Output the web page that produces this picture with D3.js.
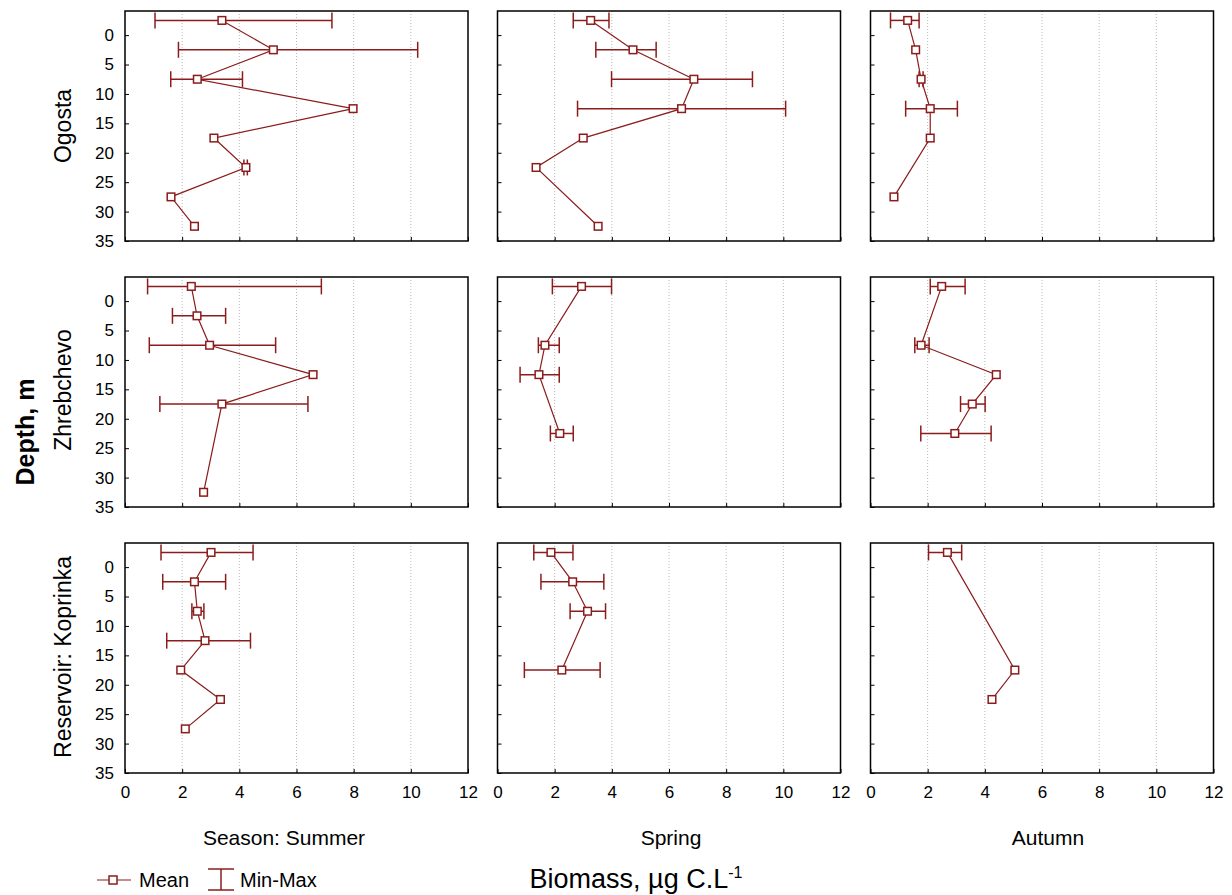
<!DOCTYPE html>
<html><head><meta charset="utf-8">
<script src="https://cdn.jsdelivr.net/npm/d3@7"></script>
<style>body{margin:0;background:#fff;}text{font-family:"Liberation Sans",Arial,sans-serif;}</style>
</head><body>
<svg id="c" width="1232" height="895"></svg>
<script>
const reservoirs = ["Ogosta", "Zhrebchevo", "Reservoir: Koprinka"];
const seasons = ["Season: Summer", "Spring", "Autumn"];
const xTicks = [0, 2, 4, 6, 8, 10, 12];
const yTicks = [0, 5, 10, 15, 20, 25, 30, 35];
const depths = [-2.5, 2.5, 7.5, 12.5, 17.5, 22.5, 27.5, 32.5];

// mean, min, max per depth (null = no sample / no bar)
const ogostaSummerMean = [3.39, 5.19, 2.53, 7.98, 3.11, 4.23, 1.61, 2.43];
const ogostaSummerMin  = [1.05, 1.87, 1.60, null, null, 4.16, null, null];
const ogostaSummerMax  = [7.24, 10.24, 4.11, null, null, 4.28, null, null];

const ogostaSpringMean = [3.26, 4.74, 6.87, 6.44, 3.00, 1.35, null, 3.52];
const ogostaSpringMin  = [2.65, 3.44, 3.99, 2.80, null, null, null, null];
const ogostaSpringMax  = [3.90, 5.55, 8.92, 10.08, null, null, null, null];

const ogostaAutumnMean = [1.30, 1.58, 1.77, 2.09, 2.09, null, 0.82, null];
const ogostaAutumnMin  = [0.70, null, 1.70, 1.23, null, null, null, null];
const ogostaAutumnMax  = [1.70, null, 1.84, 3.04, null, null, null, null];

const zhrebSummerMean = [2.32, 2.52, 2.96, 6.58, 3.39, null, null, 2.75];
const zhrebSummerMin  = [0.79, 1.66, 0.85, null, 1.22, null, null, null];
const zhrebSummerMax  = [6.87, 3.52, 5.27, null, 6.40, null, null, null];

const zhrebSpringMean = [2.94, null, 1.66, 1.45, null, 2.18, null, null];
const zhrebSpringMin  = [1.92, null, 1.43, 0.79, null, 1.85, null, null];
const zhrebSpringMax  = [3.99, null, 2.16, 2.16, null, 2.65, null, null];

const zhrebAutumnMean = [2.49, null, 1.77, 4.40, 3.56, 2.95, null, null];
const zhrebAutumnMin  = [2.09, null, 1.55, null, 3.15, 1.76, null, null];
const zhrebAutumnMax  = [3.31, null, 2.05, null, 4.01, 4.22, null, null];

const koprSummerMean = [3.01, 2.43, 2.53, 2.80, 1.95, 3.34, 2.11, null];
const koprSummerMin  = [1.26, 1.32, 2.34, 1.46, null, null, null, null];
const koprSummerMax  = [4.48, 3.52, 2.76, 4.39, null, null, null, null];

const koprSpringMean = [1.87, 2.63, 3.15, null, 2.25, null, null, null];
const koprSpringMin  = [1.27, 1.52, 2.54, null, 0.94, null, null, null];
const koprSpringMax  = [2.64, 3.72, 3.78, null, 3.59, null, null, null];

const koprAutumnMean = [2.69, null, null, null, 5.05, 4.25, null, null];
const koprAutumnMin  = [2.03, null, null, null, null, null, null, null];
const koprAutumnMax  = [3.19, null, null, null, null, null, null, null];

const panels = [
  [[ogostaSummerMean, ogostaSummerMin, ogostaSummerMax], [ogostaSpringMean, ogostaSpringMin, ogostaSpringMax], [ogostaAutumnMean, ogostaAutumnMin, ogostaAutumnMax]],
  [[zhrebSummerMean, zhrebSummerMin, zhrebSummerMax], [zhrebSpringMean, zhrebSpringMin, zhrebSpringMax], [zhrebAutumnMean, zhrebAutumnMin, zhrebAutumnMax]],
  [[koprSummerMean, koprSummerMin, koprSummerMax], [koprSpringMean, koprSpringMin, koprSpringMax], [koprAutumnMean, koprAutumnMin, koprAutumnMax]]
];

const RED = "#8b1c1c";
const colLeft = [125, 497.5, 870.5];
const rowTop = [11, 277, 543];
const PW = 343, PH = 230;
const FONT = "Liberation Sans, Arial, sans-serif";

const svg = d3.select("#c");

panels.forEach((row, ri) => {
  row.forEach((cell, ci) => {
    const [mean, mn, mx] = cell;
    const x0 = colLeft[ci], y0 = rowTop[ri];
    const x = d3.scaleLinear().domain([0, 12]).range([x0, x0 + PW]);
    const y = d3.scaleLinear().domain([-4.1, 35]).range([y0, y0 + PH]);
    const g = svg.append("g");

    g.selectAll("line.grid").data(xTicks.filter(t => t > 0 && t < 12)).join("line")
      .attr("x1", d => x(d)).attr("x2", d => x(d))
      .attr("y1", y0).attr("y2", y0 + PH)
      .attr("stroke", "#b8b8b8").attr("stroke-width", 1).attr("stroke-dasharray", "1,2");

    const ya = d3.axisRight(y).tickValues(yTicks).tickSize(4).tickFormat("");
    g.append("g").attr("transform", `translate(${x0},0)`).call(ya)
      .call(s => s.select(".domain").remove())
      .call(s => s.selectAll("line").attr("stroke", "#000"));
    const xa = d3.axisTop(x).tickValues(xTicks).tickSize(4).tickFormat("");
    g.append("g").attr("transform", `translate(0,${y0 + PH})`).call(xa)
      .call(s => s.select(".domain").remove())
      .call(s => s.selectAll("line").attr("stroke", "#000"));

    if (ci === 0) {
      const yl = d3.axisLeft(y).tickValues(yTicks).tickSize(0).tickPadding(11);
      g.append("g").attr("transform", `translate(${x0},0)`).call(yl)
        .call(s => s.select(".domain").remove())
        .call(s => s.selectAll("text").attr("font-size", 17).attr("fill", "#000").attr("font-family", FONT));
    }
    if (ri === 2) {
      const xl = d3.axisBottom(x).tickValues(xTicks).tickSize(0).tickPadding(13);
      g.append("g").attr("transform", `translate(0,${y0 + PH})`).call(xl)
        .call(s => s.select(".domain").remove())
        .call(s => s.selectAll("text").attr("font-size", 17).attr("fill", "#000").attr("font-family", FONT));
    }

    g.append("rect").attr("x", x0).attr("y", y0).attr("width", PW).attr("height", PH)
      .attr("fill", "none").attr("stroke", "#000").attr("stroke-width", 1.5);

    const pts = depths.map((d, i) => ({d, m: mean[i], lo: mn[i], hi: mx[i]})).filter(p => p.m != null);

    const eb = pts.filter(p => p.lo != null);
    g.selectAll("line.eb").data(eb).join("line")
      .attr("x1", p => x(p.lo)).attr("x2", p => x(p.hi))
      .attr("y1", p => y(p.d)).attr("y2", p => y(p.d))
      .attr("stroke", RED).attr("stroke-width", 1.5);
    g.selectAll("line.cl").data(eb).join("line")
      .attr("x1", p => x(p.lo)).attr("x2", p => x(p.lo))
      .attr("y1", p => y(p.d) - 8).attr("y2", p => y(p.d) + 8)
      .attr("stroke", RED).attr("stroke-width", 1.5);
    g.selectAll("line.ch").data(eb).join("line")
      .attr("x1", p => x(p.hi)).attr("x2", p => x(p.hi))
      .attr("y1", p => y(p.d) - 8).attr("y2", p => y(p.d) + 8)
      .attr("stroke", RED).attr("stroke-width", 1.5);

    const line = d3.line().x(p => x(p.m)).y(p => y(p.d));
    g.append("path").datum(pts).attr("d", line)
      .attr("fill", "none").attr("stroke", RED).attr("stroke-width", 1.2);

    g.selectAll("rect.mk").data(pts).join("rect")
      .attr("x", p => x(p.m) - 3.8).attr("y", p => y(p.d) - 3.8)
      .attr("width", 7.6).attr("height", 7.6)
      .attr("fill", "#fff").attr("stroke", RED).attr("stroke-width", 1.5);
  });
});

const rowCenters = [126, 390, 657];
reservoirs.forEach((r, i) => {
  svg.append("text").attr("transform", `translate(71,${rowCenters[i]}) rotate(-90)`)
    .attr("text-anchor", "middle").attr("font-size", 23).text(r);
});
svg.append("text").attr("transform", `translate(34,432) rotate(-90)`)
  .attr("text-anchor", "middle").attr("font-size", 25).attr("font-weight", "bold").text("Depth, m");

const colCenters = [284, 671, 1048];
seasons.forEach((s, i) => {
  svg.append("text").attr("x", colCenters[i]).attr("y", 845)
    .attr("text-anchor", "middle").attr("font-size", 21).text(s);
});

const t = svg.append("text").attr("x", 636).attr("y", 888).attr("text-anchor", "middle").attr("font-size", 27);
t.append("tspan").text("Biomass, \u00b5g C.L");
t.append("tspan").attr("dy", -10).attr("font-size", 16).text("-1");

const lg = svg.append("g");
lg.append("line").attr("x1", 97).attr("x2", 131).attr("y1", 880).attr("y2", 880).attr("stroke", RED).attr("stroke-width", 1.2);
lg.append("rect").attr("x", 109).attr("y", 876).attr("width", 8).attr("height", 8).attr("fill", "#fff").attr("stroke", RED).attr("stroke-width", 1.5);
lg.append("text").attr("x", 139).attr("y", 887).attr("font-size", 20).text("Mean");
lg.append("line").attr("x1", 221).attr("x2", 221).attr("y1", 869).attr("y2", 890).attr("stroke", RED).attr("stroke-width", 1.5);
lg.append("line").attr("x1", 208).attr("x2", 234).attr("y1", 869).attr("y2", 869).attr("stroke", RED).attr("stroke-width", 1.5);
lg.append("line").attr("x1", 208).attr("x2", 234).attr("y1", 890).attr("y2", 890).attr("stroke", RED).attr("stroke-width", 1.5);
lg.append("text").attr("x", 240).attr("y", 887).attr("font-size", 20).text("Min-Max");
</script>
</body></html>
